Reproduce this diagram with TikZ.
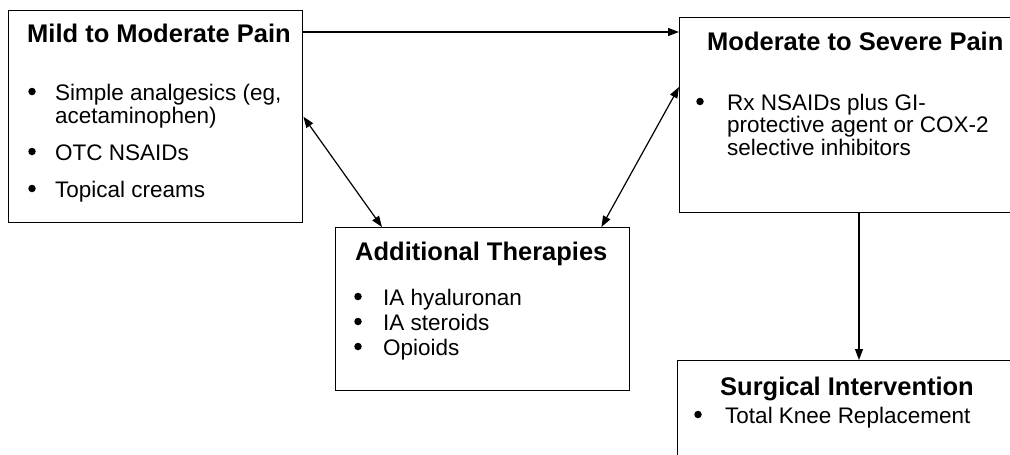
\documentclass[tikz,border=0pt]{standalone}
\usepackage{fontspec}
\setmainfont{Liberation Sans}
\usepackage{tikz}
\usetikzlibrary{positioning,arrows.meta}

\tikzset{
  box/.style={draw, line width=1.4pt, anchor=north west, inner sep=0pt},
  head/.style={anchor=base west, inner sep=0pt, font=\fontsize{25.5}{30}\selectfont\bfseries},
  line/.style={anchor=base west, inner sep=0pt, font=\fontsize{22.5}{26}\selectfont},
  dot/.style={circle, fill, inner sep=0pt, minimum size=7.5pt, yshift=8.5pt},
  link/.style={line width=1.2pt, -{Triangle[length=11pt,width=8pt]}},
  both/.style={line width=1.2pt, {Triangle[length=11pt,width=8pt]}-{Triangle[length=11pt,width=8pt]}}
}

\begin{document}
\begin{tikzpicture}[x=1pt,y=-1pt]
\useasboundingbox (0,0) rectangle (1010,455);
\clip (0,0) rectangle (1010,455);

% Boxes
\node[box, minimum width=294pt, minimum height=212pt] (mild) at (8,10) {};
\node[box, minimum width=345pt, minimum height=195pt] (severe) at (679,17) {};
\node[box, minimum width=294pt, minimum height=163pt] (extra) at (335,227) {};
\node[box, minimum width=345pt, minimum height=110pt] (surgery) at (677,360) {};

% Mild to moderate
\node[head] (mildtitle) at (27,42) {Mild to Moderate Pain};
\node[dot] (milddot1) at (32,100) {};
\node[line] (mild1) at (55,100) {Simple analgesics (eg,};
\node[line] (mild1b) at (55,123) {acetaminophen)};
\node[dot] (milddot2) at (32,160) {};
\node[line] (mild2) at (55,160) {OTC NSAIDs};
\node[dot] (milddot3) at (32,197) {};
\node[line] (mild3) at (55,197) {Topical creams};

% Moderate to severe
\node[head] (severetitle) at (707,50) {Moderate to Severe Pain};
\node[dot] (severedot1) at (700,110) {};
\node[line] (severe1) at (727,110) {Rx NSAIDs plus GI-};
\node[line] (severe1b) at (727,132) {protective agent or COX-2};
\node[line] (severe1c) at (727,155) {selective inhibitors};

% Additional therapies
\node[head] (extratitle) at (355,260) {Additional Therapies};
\node[dot] (extradot1) at (358,305) {};
\node[line] (extra1) at (383,305) {IA hyaluronan};
\node[dot] (extradot2) at (358,330) {};
\node[line] (extra2) at (383,330) {IA steroids};
\node[dot] (extradot3) at (358,355) {};
\node[line] (extra3) at (383,355) {Opioids};

% Surgical intervention
\node[head] (surgerytitle) at (720,395) {Surgical Intervention};
\node[dot] (surgerydot1) at (698,423) {};
\node[line] (surgery1) at (725,423) {Total Knee Replacement};

% Connectors
\draw[link] (mild.east |- 0,32) -- (severe.west |- 0,32);
\draw[both] (mild.east) -- ([xshift=47pt]extra.north west);
\draw[both] ([yshift=-70pt]severe.north west) -- ([xshift=-29pt]extra.north east);
\draw[link] ([xshift=180pt]severe.south west) -- ([xshift=182pt]surgery.north west);

\end{tikzpicture}
\end{document}
